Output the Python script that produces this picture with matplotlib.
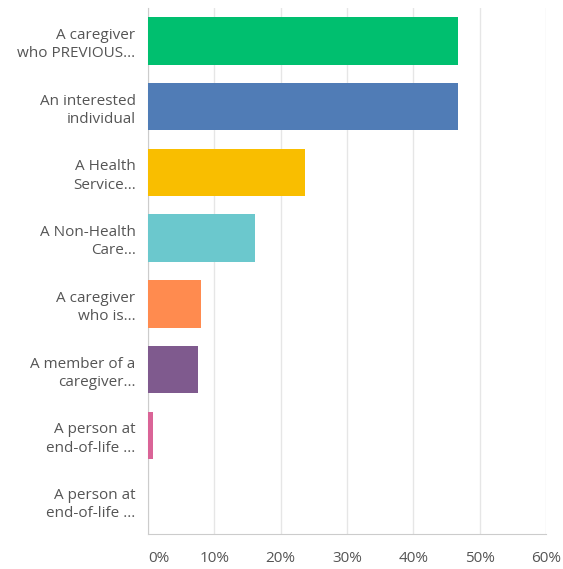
import matplotlib
matplotlib.use("Agg")
import matplotlib.pyplot as plt
from matplotlib.ticker import FuncFormatter

# answer categories (as truncated in the survey export) and share of respondents, %
labels = ["A caregiver\nwho PREVIOUS...", "An interested\nindividual", "A Health\nService...",
          "A Non-Health\nCare...", "A caregiver\nwho is...", "A member of a\ncaregiver...",
          "A person at\nend-of-life ...", "A person at\nend-of-life ..."]
values = [46.7, 46.7, 23.7, 16.1, 8.0, 7.6, 0.7, 0.0]
colors = ["#00BF6F", "#507CB6", "#F9BE00", "#6BC8CD", "#FF8B4F", "#7F5A8E", "#DA6497", "#AAAAAA"]
xticks = [0, 10, 20, 30, 40, 50, 60]

plt.rcParams['font.family'] = ['Open Sans', 'DejaVu Sans']

fig = plt.figure(figsize=(5.63, 5.69), dpi=100)
ax = fig.add_axes([0.263, 0.0615, 0.707, 0.9245])

ypos = list(range(len(labels)))
ax.barh(ypos, values, height=0.72, color=colors, zorder=3)

ax.set_xlim(0, 60)
ax.set_ylim(len(labels) - 0.5, -0.5)
ax.set_xticks(xticks)
ax.xaxis.set_major_formatter(FuncFormatter(lambda v, p: "%d%%" % v))
ax.set_yticks(ypos)
ax.set_yticklabels(labels, ha="right", linespacing=1.3)

ax.grid(axis="x", color="#e6e6e6", linewidth=1, zorder=0)
for s in ["top", "right"]:
    ax.spines[s].set_visible(False)
ax.spines["left"].set_color("#cccccc")
ax.spines["bottom"].set_color("#cccccc")
ax.tick_params(axis="both", length=0, colors="#555555", labelsize=11)
ax.tick_params(axis="x", pad=12)
ax.tick_params(axis="y", pad=9)
ax.get_xticklabels()[0].set_ha("left")

fig.savefig("out.png", dpi=100)
